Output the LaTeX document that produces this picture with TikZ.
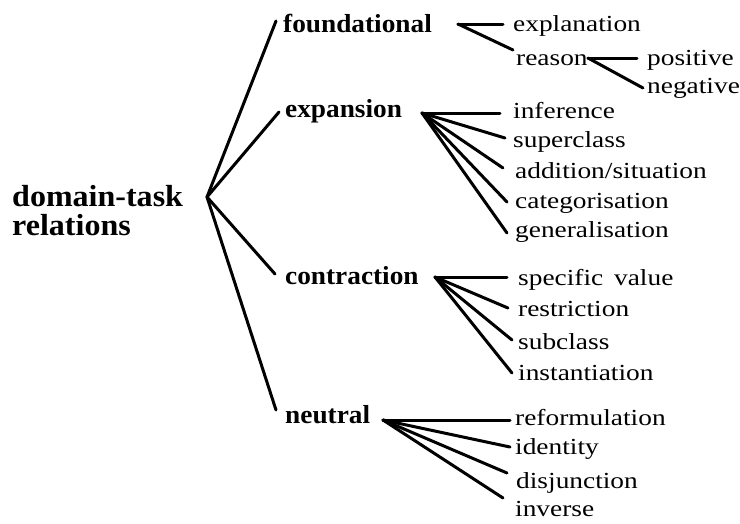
\documentclass[tikz,border=0pt]{standalone}
\usepackage{fontspec}
\setmainfont{Liberation Serif}
\newfontfamily\relfont[FakeStretch=1.19]{Liberation Serif}
\newfontfamily\catfont[FakeStretch=1.05]{Liberation Serif}
\usetikzlibrary{calc}
\tikzset{
  rel/.style={font=\relfont\fontsize{23}{27}\selectfont, anchor=base west, inner sep=0pt},
  cat/.style={font=\catfont\bfseries\fontsize{26}{30}\selectfont, anchor=base west, inner sep=0pt},
  rootnode/.style={font=\catfont\bfseries\fontsize{30.5}{29}\selectfont, anchor=base west, inner sep=0pt, align=left},
  link/.style={line width=3pt, line cap=round, line join=round}
}
\begin{document}
\begin{tikzpicture}[x=1pt,y=-1pt]
\useasboundingbox (0,0) rectangle (740,523);
% root
\node[rootnode] (root) at (12,235) {domain-task\\relations};
\coordinate (rv) at (207,197);
% categories
\node[cat] (found) at (283,32) {foundational};
\node[cat] (expan) at (285,117) {expansion};
\node[cat] (contr) at (285,284) {contraction};
\node[cat] (neutr) at (285,423) {neutral};
\draw[link] (rv) -- ($(found.base west)+(-7,-11)$);
\draw[link] (rv) -- ($(expan.base west)+(-6,-5)$);
\draw[link] (rv) -- ($(contr.base west)+(-10,-10)$);
\draw[link] (rv) -- ($(neutr.base west)+(-9,-13)$);
% foundational
\coordinate (fv) at (458,24);
\node[rel] (expl) at (513,31) {explanation};
\node[rel] (reas) at (516,65) {reason};
\draw[link] (fv) -- ($(expl.base west)+(-10,-7)$);
\draw[link] (fv) -- ($(reas.base west)+(-3,-15)$);
\coordinate (rsv) at (588,58);
\node[rel] (posi) at (647,65) {positive};
\node[rel] (nega) at (647,93) {negative};
\draw[link] (rsv) -- ($(posi.base west)+(-10,-7)$);
\draw[link] (rsv) -- ($(nega.base west)+(-4,-5)$);
% expansion
\coordinate (ev) at (422,113);
\node[rel] (infe) at (513,118) {inference};
\node[rel] (supe) at (513,147) {superclass};
\node[rel] (addi) at (515,178) {addition/situation};
\node[rel] (cate) at (515,208) {categorisation};
\node[rel] (gene) at (515,237) {generalisation};
\draw[link] (ev) -- ($(infe.base west)+(-13,-5)$);
\draw[link] (ev) -- ($(supe.base west)+(-8,-9)$);
\draw[link] (ev) -- ($(addi.base west)+(-12,-10)$);
\draw[link] (ev) -- ($(cate.base west)+(-8,-6)$);
\draw[link] (ev) -- ($(gene.base west)+(-8,-4)$);
% contraction
\coordinate (cv) at (435,277);
\node[rel] (spec) at (518,285) {specific\kern4pt\ value};
\node[rel] (rest) at (518,316) {restriction};
\node[rel] (subc) at (518,349) {subclass};
\node[rel] (inst) at (518,380) {instantiation};
\draw[link] (cv) -- ($(spec.base west)+(-11,-8)$);
\draw[link] (cv) -- ($(rest.base west)+(-10,-8)$);
\draw[link] (cv) -- ($(subc.base west)+(-6,-9)$);
\draw[link] (cv) -- ($(inst.base west)+(-6,-7)$);
% neutral
\coordinate (nv) at (383,420);
\node[rel] (refo) at (515,425) {reformulation};
\node[rel] (iden) at (515,454) {identity};
\node[rel] (disj) at (516,488) {disjunction};
\node[rel] (inve) at (515,516) {inverse};
\draw[link] (nv) -- ($(refo.base west)+(-5,-5)$);
\draw[link] (nv) -- ($(iden.base west)+(-5,-7)$);
\draw[link] (nv) -- ($(disj.base west)+(-9,-15)$);
\draw[link] (nv) -- ($(inve.base west)+(-12,-18)$);
\end{tikzpicture}
\end{document}
